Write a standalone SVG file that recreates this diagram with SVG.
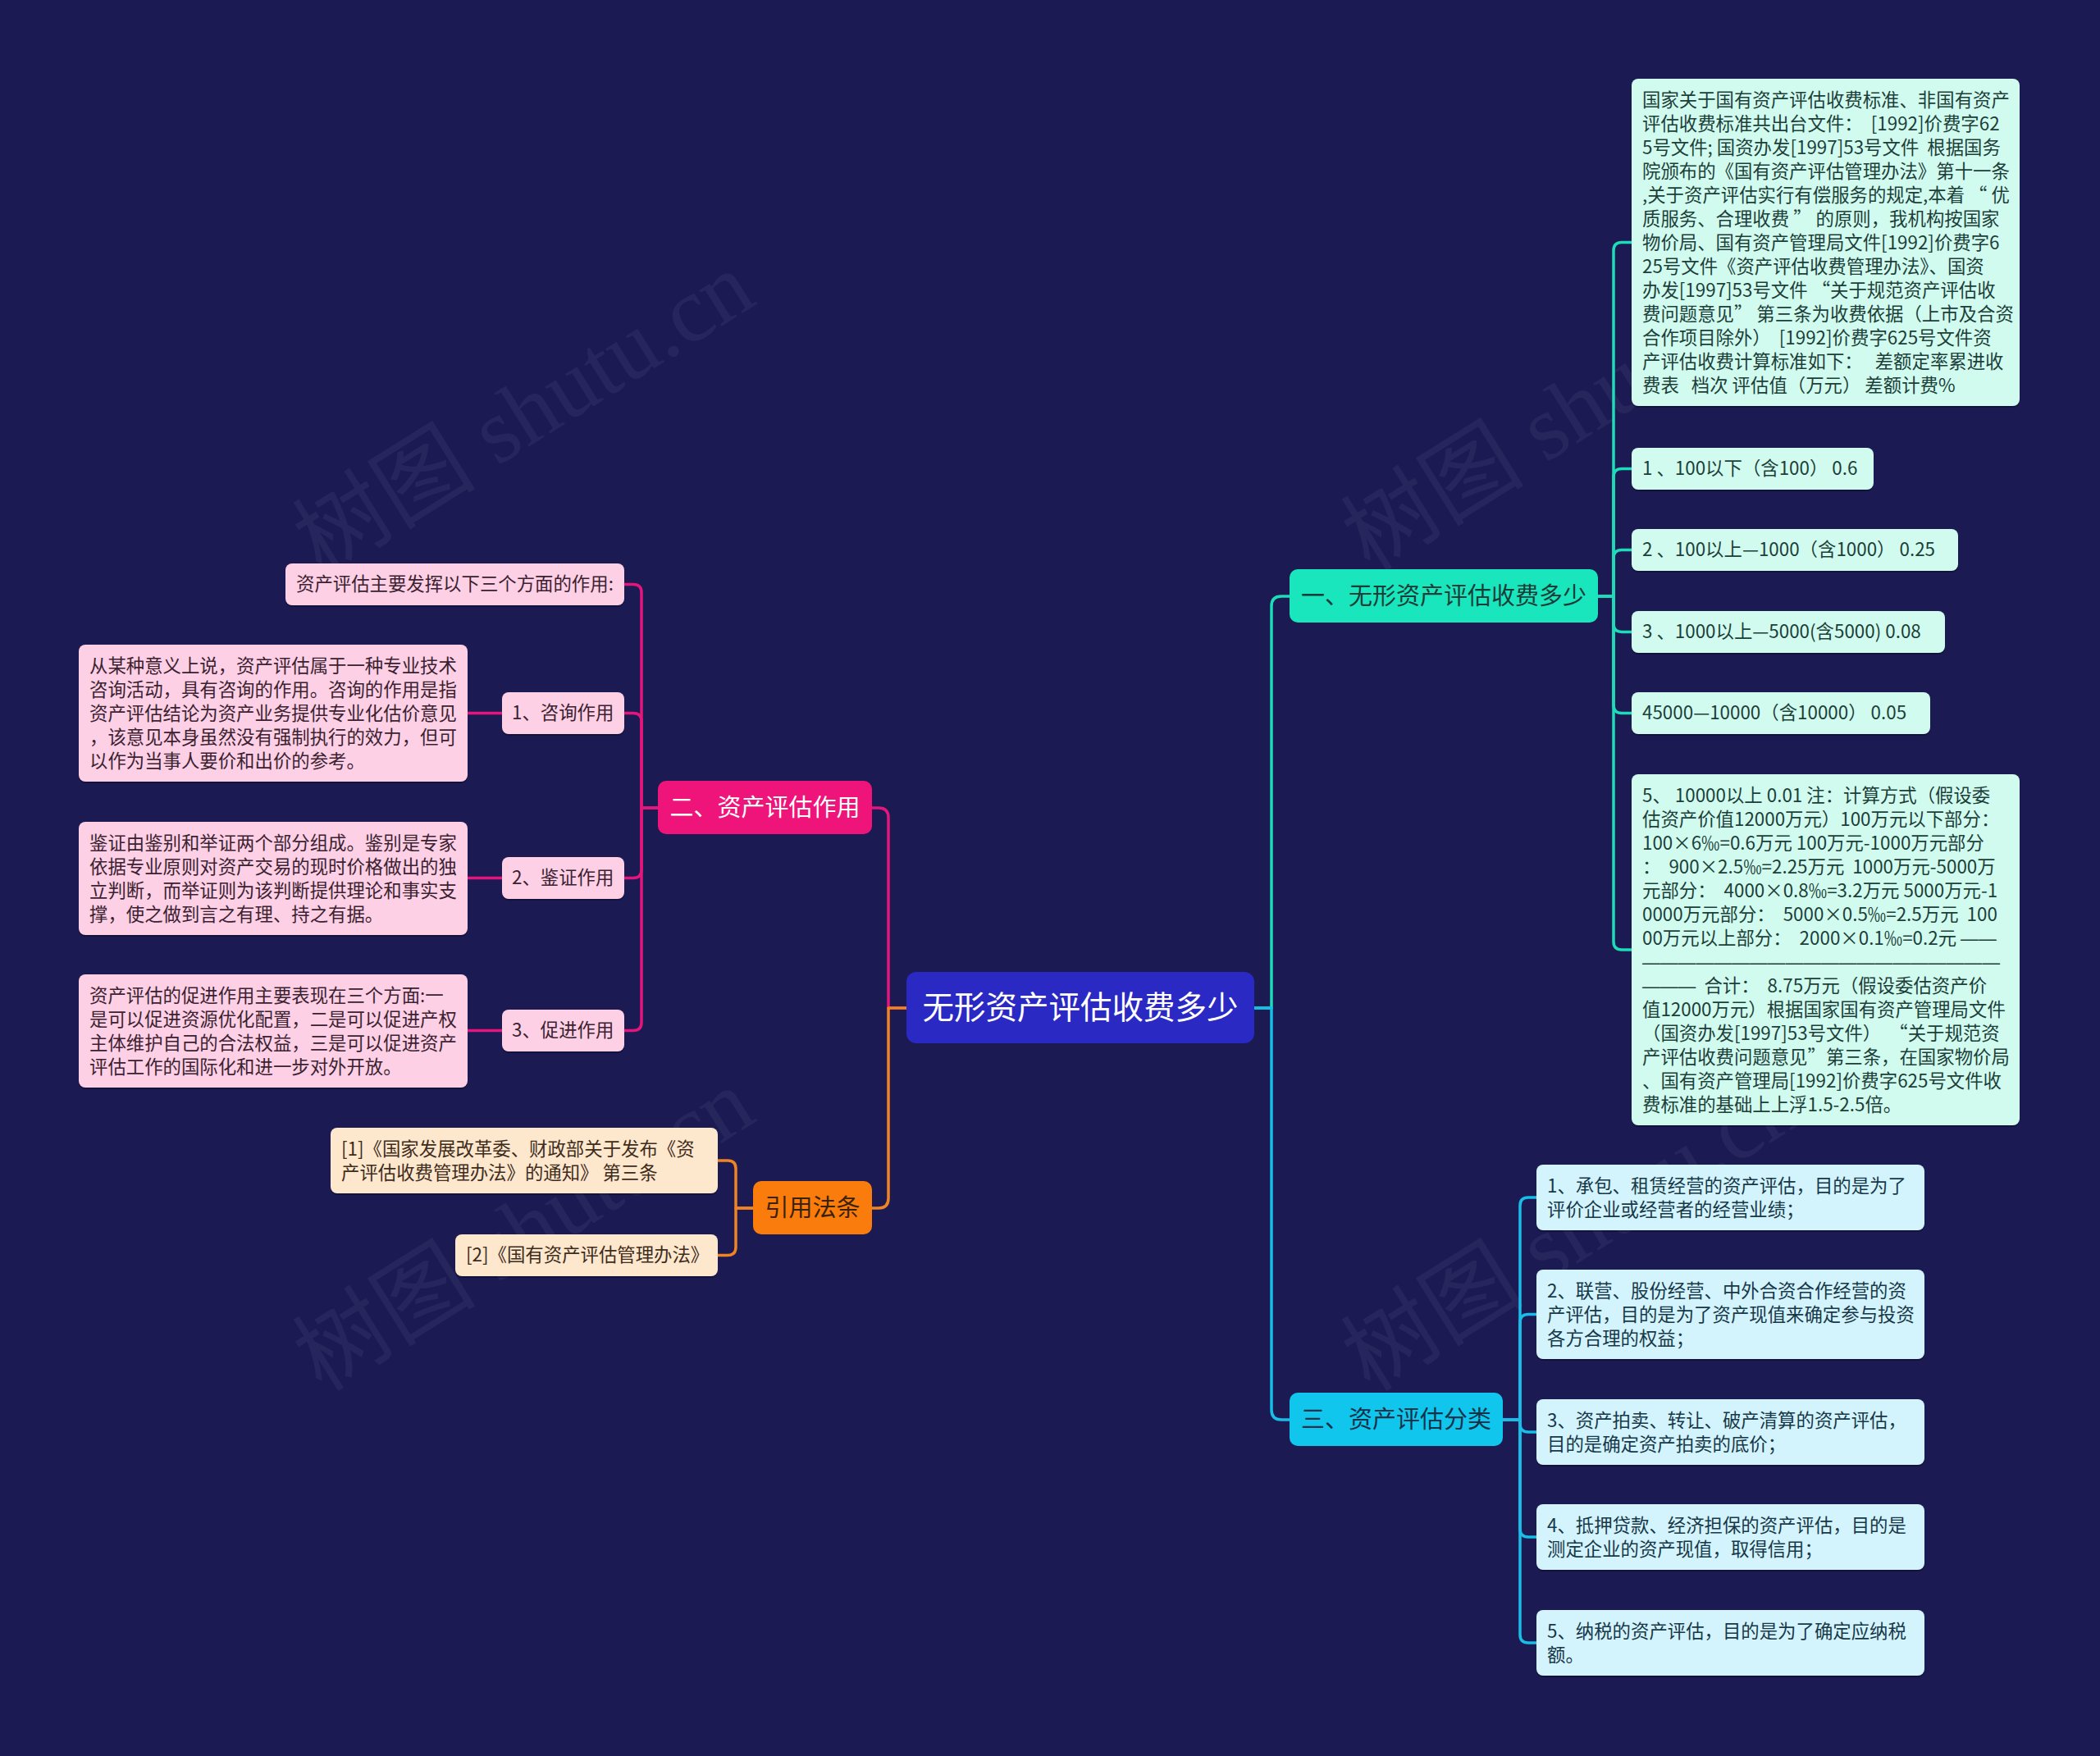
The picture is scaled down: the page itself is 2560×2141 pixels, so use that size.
<svg xmlns="http://www.w3.org/2000/svg" width="2560" height="2141" viewBox="0 0 2560 2141">
<style>
text{font-family:"Noto Sans CJK SC","Noto Sans",sans-serif;white-space:pre}
.s22{font-size:22.4px}
.s29{font-size:29px}
.d{font-family:"Liberation Sans",sans-serif;font-size:21.8px}
.cn{fill:none;stroke-width:3.5;stroke-linecap:round;stroke-linejoin:round}
.teal{stroke:#1ddcb8}.cyan{stroke:#18bde8}.mag{stroke:#e3167c}.org{stroke:#f08322}
.sh{fill:#000;opacity:.28}
.lfT{fill:#d2fbef}.lfC{fill:#d3f4fc}.lfP{fill:#fdd0e6}.lfO{fill:#fde7cd}
.txT{fill:#1c3f3a}.txC{fill:#173848}.txP{fill:#3b2230}.txO{fill:#3e2c1c}
.wm{font-family:"Liberation Serif","Noto Sans CJK SC",serif;font-size:112px;fill:#c8c8d8;opacity:.07}
</style>
<rect width="2560" height="2141" fill="#1b1a53"/>
<g id="watermark">
<text class="wm" transform="translate(645,514) rotate(-32)" text-anchor="middle" dominant-baseline="middle">树图 shutu.cn</text>
<text class="wm" transform="translate(1923,510) rotate(-32)" text-anchor="middle" dominant-baseline="middle">树图 shutu.cn</text>
<text class="wm" transform="translate(645,1510) rotate(-32)" text-anchor="middle" dominant-baseline="middle">树图 shutu.cn</text>
<text class="wm" transform="translate(1923,1510) rotate(-32)" text-anchor="middle" dominant-baseline="middle">树图 shutu.cn</text>
</g>
<g id="connectors">
<path class="cn teal" d="M1528,1229 H1550 V739 Q1550,727 1562,727 H1572"/>
<path class="cn cyan" d="M1528,1229 H1550 V1719 Q1550,1731 1562,1731 H1572"/>
<path class="cn mag" d="M1105,1229 H1083 V997 Q1083,985 1071,985 H1063"/>
<path class="cn org" d="M1105,1229 H1083 V1461 Q1083,1473 1071,1473 H1063"/>
<path class="cn teal" d="M1948,727 H1967 V305.5 Q1967,295.5 1977,295.5 H1989"/>
<path class="cn teal" d="M1948,727 H1967 V581.5 Q1967,571.5 1977,571.5 H1989"/>
<path class="cn teal" d="M1948,727 H1967 V680.5 Q1967,670.5 1977,670.5 H1989"/>
<path class="cn teal" d="M1948,727 H1967 V760.5 Q1967,770.5 1977,770.5 H1989"/>
<path class="cn teal" d="M1948,727 H1967 V859.5 Q1967,869.5 1977,869.5 H1989"/>
<path class="cn teal" d="M1948,727 H1967 V1148 Q1967,1158 1977,1158 H1989"/>
<path class="cn cyan" d="M1832,1731 H1853 V1470 Q1853,1460 1863,1460 H1873"/>
<path class="cn cyan" d="M1832,1731 H1853 V1612.5 Q1853,1602.5 1863,1602.5 H1873"/>
<path class="cn cyan" d="M1832,1731 H1853 V1736 Q1853,1746 1863,1746 H1873"/>
<path class="cn cyan" d="M1832,1731 H1853 V1864 Q1853,1874 1863,1874 H1873"/>
<path class="cn cyan" d="M1832,1731 H1853 V1993 Q1853,2003 1863,2003 H1873"/>
<path class="cn mag" d="M802,985 H782 V722.5 Q782,712.5 772,712.5 H761"/>
<path class="cn mag" d="M802,985 H782 V879.5 Q782,869.5 772,869.5 H761"/>
<path class="cn mag" d="M802,985 H782 V1060.5 Q782,1070.5 772,1070.5 H761"/>
<path class="cn mag" d="M802,985 H782 V1246.5 Q782,1256.5 772,1256.5 H761"/>
<path class="cn mag" d="M612,869.5 H570"/>
<path class="cn mag" d="M612,1070.5 H570"/>
<path class="cn mag" d="M612,1256.5 H570"/>
<path class="cn org" d="M918,1473 H897 V1425 Q897,1415 887,1415 H875"/>
<path class="cn org" d="M918,1473 H897 V1520.5 Q897,1530.5 887,1530.5 H875"/>
</g>
<g id="root">
<rect x="1105" y="1185" width="424" height="87" rx="12" fill="#2a29c4"/>
<text x="1317" y="1242" text-anchor="middle" font-size="38.5" fill="#ffffff">无形资产评估收费多少</text>
</g>
<g id="b1">
<rect x="1572" y="694" width="376" height="65" rx="10" fill="#19e6bd"/>
<text class="s29" x="1760" y="737" text-anchor="middle" fill="#1a3d37">一、无形资产评估收费多少</text>
</g>
<g id="r1">
<rect class="sh" x="1989" y="98" width="473" height="399" rx="8"/>
<rect class="lfT" x="1989" y="96" width="473" height="399" rx="8"/>
<text class="s22 txT" x="2002" y="130"><tspan x="2002">国家关于国有资产评估收费标准、非国有资产</tspan><tspan x="2002" dy="29">评估收费标准共出台文件：  [1992]价费字62</tspan><tspan x="2002" dy="29">5号文件; 国资办发[1997]53号文件  根据国务</tspan><tspan x="2002" dy="29">院颁布的《国有资产评估管理办法》第十一条</tspan><tspan x="2002" dy="29">,关于资产评估实行有偿服务的规定,本着 “ 优</tspan><tspan x="2002" dy="29">质服务、合理收费 ” 的原则，我机构按国家</tspan><tspan x="2002" dy="29">物价局、国有资产管理局文件[1992]价费字6</tspan><tspan x="2002" dy="29">25号文件《资产评估收费管理办法》、国资</tspan><tspan x="2002" dy="29">办发[1997]53号文件 “关于规范资产评估收</tspan><tspan x="2002" dy="29">费问题意见” 第三条为收费依据（上市及合资</tspan><tspan x="2002" dy="29">合作项目除外）  [1992]价费字625号文件资</tspan><tspan x="2002" dy="29">产评估收费计算标准如下：   差额定率累进收</tspan><tspan x="2002" dy="29">费表   档次 评估值（万元） 差额计费%</tspan></text>
</g>
<g id="r2">
<rect class="sh" x="1989" y="548" width="295" height="51" rx="8"/>
<rect class="lfT" x="1989" y="546" width="295" height="51" rx="8"/>
<text class="s22 txT" x="2002" y="579">1 、100以下（含100） 0.6</text>
</g>
<g id="r3">
<rect class="sh" x="1989" y="647" width="398" height="51" rx="8"/>
<rect class="lfT" x="1989" y="645" width="398" height="51" rx="8"/>
<text class="s22 txT" x="2002" y="678">2 、100以上—1000（含1000） 0.25</text>
</g>
<g id="r4">
<rect class="sh" x="1989" y="747" width="382" height="51" rx="8"/>
<rect class="lfT" x="1989" y="745" width="382" height="51" rx="8"/>
<text class="s22 txT" x="2002" y="778">3 、1000以上—5000(含5000) 0.08</text>
</g>
<g id="r5">
<rect class="sh" x="1989" y="846" width="364" height="51" rx="8"/>
<rect class="lfT" x="1989" y="844" width="364" height="51" rx="8"/>
<text class="s22 txT" x="2002" y="877">45000—10000（含10000） 0.05</text>
</g>
<g id="r6">
<rect class="sh" x="1989" y="946" width="473" height="428" rx="8"/>
<rect class="lfT" x="1989" y="944" width="473" height="428" rx="8"/>
<text class="s22 txT" x="2002" y="978"><tspan x="2002">5、 10000以上 0.01 注：计算方式（假设委</tspan><tspan x="2002" dy="29">估资产价值12000万元）100万元以下部分：</tspan><tspan x="2002" dy="29">100×6‰=0.6万元 100万元-1000万元部分</tspan><tspan x="2002" dy="29">：  900×2.5‰=2.25万元  1000万元-5000万</tspan><tspan x="2002" dy="29">元部分：  4000×0.8‰=3.2万元 5000万元-1</tspan><tspan x="2002" dy="29">0000万元部分：  5000×0.5‰=2.5万元  100</tspan><tspan x="2002" dy="29">00万元以上部分：  2000×0.1‰=0.2元 </tspan><tspan class="d">——</tspan><tspan class="d" x="2002" dy="29">————————————————————</tspan><tspan class="d" x="2002" dy="29">———</tspan><tspan>  合计：  8.75万元（假设委估资产价</tspan><tspan x="2002" dy="29">值12000万元）根据国家国有资产管理局文件</tspan><tspan x="2002" dy="29">（国资办发[1997]53号文件）  “关于规范资</tspan><tspan x="2002" dy="29">产评估收费问题意见”第三条，在国家物价局</tspan><tspan x="2002" dy="29">、国有资产管理局[1992]价费字625号文件收</tspan><tspan x="2002" dy="29">费标准的基础上上浮1.5-2.5倍。</tspan></text>
</g>
<g id="b3">
<rect x="1572" y="1698" width="260" height="65" rx="10" fill="#10c6ec"/>
<text class="s29" x="1702" y="1741" text-anchor="middle" fill="#14324a">三、资产评估分类</text>
</g>
<g id="l1">
<rect class="sh" x="1873" y="1422" width="473" height="80" rx="8"/>
<rect class="lfC" x="1873" y="1420" width="473" height="80" rx="8"/>
<text class="s22 txC" x="1886" y="1454"><tspan x="1886">1、承包、租赁经营的资产评估，目的是为了</tspan><tspan x="1886" dy="29">评价企业或经营者的经营业绩；</tspan></text>
</g>
<g id="l2">
<rect class="sh" x="1873" y="1550" width="473" height="109" rx="8"/>
<rect class="lfC" x="1873" y="1548" width="473" height="109" rx="8"/>
<text class="s22 txC" x="1886" y="1582"><tspan x="1886">2、联营、股份经营、中外合资合作经营的资</tspan><tspan x="1886" dy="29">产评估，目的是为了资产现值来确定参与投资</tspan><tspan x="1886" dy="29">各方合理的权益；</tspan></text>
</g>
<g id="l3">
<rect class="sh" x="1873" y="1708" width="473" height="80" rx="8"/>
<rect class="lfC" x="1873" y="1706" width="473" height="80" rx="8"/>
<text class="s22 txC" x="1886" y="1740"><tspan x="1886">3、资产拍卖、转让、破产清算的资产评估，</tspan><tspan x="1886" dy="29">目的是确定资产拍卖的底价；</tspan></text>
</g>
<g id="l4">
<rect class="sh" x="1873" y="1836" width="473" height="80" rx="8"/>
<rect class="lfC" x="1873" y="1834" width="473" height="80" rx="8"/>
<text class="s22 txC" x="1886" y="1868"><tspan x="1886">4、抵押贷款、经济担保的资产评估，目的是</tspan><tspan x="1886" dy="29">测定企业的资产现值，取得信用；</tspan></text>
</g>
<g id="l5">
<rect class="sh" x="1873" y="1965" width="473" height="80" rx="8"/>
<rect class="lfC" x="1873" y="1963" width="473" height="80" rx="8"/>
<text class="s22 txC" x="1886" y="1997"><tspan x="1886">5、纳税的资产评估，目的是为了确定应纳税</tspan><tspan x="1886" dy="29">额。</tspan></text>
</g>
<g id="b2">
<rect x="802" y="952" width="261" height="65" rx="10" fill="#ee1479"/>
<text class="s29" x="932.5" y="995" text-anchor="middle" fill="#ffffff">二、资产评估作用</text>
</g>
<g id="p0">
<rect class="sh" x="348" y="689" width="413" height="51" rx="8"/>
<rect class="lfP" x="348" y="687" width="413" height="51" rx="8"/>
<text class="s22 txP" x="361" y="720">资产评估主要发挥以下三个方面的作用:</text>
</g>
<g id="p1">
<rect class="sh" x="612" y="846" width="149" height="51" rx="8"/>
<rect class="lfP" x="612" y="844" width="149" height="51" rx="8"/>
<text class="s22 txP" x="624" y="877">1、咨询作用</text>
</g>
<g id="p1t">
<rect class="sh" x="96" y="788" width="474" height="167" rx="8"/>
<rect class="lfP" x="96" y="786" width="474" height="167" rx="8"/>
<text class="s22 txP" x="109" y="820"><tspan x="109">从某种意义上说，资产评估属于一种专业技术</tspan><tspan x="109" dy="29">咨询活动，具有咨询的作用。咨询的作用是指</tspan><tspan x="109" dy="29">资产评估结论为资产业务提供专业化估价意见</tspan><tspan x="109" dy="29">，该意见本身虽然没有强制执行的效力，但可</tspan><tspan x="109" dy="29">以作为当事人要价和出价的参考。</tspan></text>
</g>
<g id="p2">
<rect class="sh" x="612" y="1047" width="149" height="51" rx="8"/>
<rect class="lfP" x="612" y="1045" width="149" height="51" rx="8"/>
<text class="s22 txP" x="624" y="1078">2、鉴证作用</text>
</g>
<g id="p2t">
<rect class="sh" x="96" y="1004" width="474" height="138" rx="8"/>
<rect class="lfP" x="96" y="1002" width="474" height="138" rx="8"/>
<text class="s22 txP" x="109" y="1036"><tspan x="109">鉴证由鉴别和举证两个部分组成。鉴别是专家</tspan><tspan x="109" dy="29">依据专业原则对资产交易的现时价格做出的独</tspan><tspan x="109" dy="29">立判断，而举证则为该判断提供理论和事实支</tspan><tspan x="109" dy="29">撑，使之做到言之有理、持之有据。</tspan></text>
</g>
<g id="p3">
<rect class="sh" x="612" y="1233" width="149" height="51" rx="8"/>
<rect class="lfP" x="612" y="1231" width="149" height="51" rx="8"/>
<text class="s22 txP" x="624" y="1264">3、促进作用</text>
</g>
<g id="p3t">
<rect class="sh" x="96" y="1190" width="474" height="138" rx="8"/>
<rect class="lfP" x="96" y="1188" width="474" height="138" rx="8"/>
<text class="s22 txP" x="109" y="1222"><tspan x="109">资产评估的促进作用主要表现在三个方面:一</tspan><tspan x="109" dy="29">是可以促进资源优化配置，二是可以促进产权</tspan><tspan x="109" dy="29">主体维护自己的合法权益，三是可以促进资产</tspan><tspan x="109" dy="29">评估工作的国际化和进一步对外开放。</tspan></text>
</g>
<g id="b4">
<rect x="918" y="1440" width="145" height="65" rx="10" fill="#f97c0c"/>
<text class="s29" x="990.5" y="1483" text-anchor="middle" fill="#3a2206">引用法条</text>
</g>
<g id="q1">
<rect class="sh" x="403" y="1377" width="472" height="80" rx="8"/>
<rect class="lfO" x="403" y="1375" width="472" height="80" rx="8"/>
<text class="s22 txO" x="416" y="1409"><tspan x="416">[1]《国家发展改革委、财政部关于发布《资</tspan><tspan x="416" dy="29">产评估收费管理办法》的通知》 第三条</tspan></text>
</g>
<g id="q2">
<rect class="sh" x="555" y="1507" width="320" height="51" rx="8"/>
<rect class="lfO" x="555" y="1505" width="320" height="51" rx="8"/>
<text class="s22 txO" x="568" y="1538">[2]《国有资产评估管理办法》</text>
</g>
</svg>
